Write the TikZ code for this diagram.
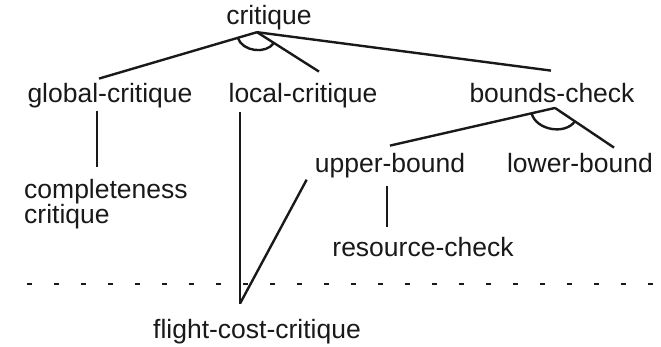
\documentclass[tikz,border=0pt]{standalone}
\usepackage{fontspec}
\setmainfont{Liberation Sans}
\usetikzlibrary{calc}

\begin{document}
\begin{tikzpicture}[x=1pt, y=-1pt, line width=2.4pt, color={black!90},
  lbl/.style={inner sep=2pt, font=\fontsize{26.5}{25}\selectfont}]

\useasboundingbox (0,0) rectangle (661,347);

\node[lbl, anchor=base] (crit)   at (269,25)  {critique};
\node[lbl, anchor=base] (glob)   at (110,103) {global-critique};
\node[lbl, anchor=base] (loc)    at (303,103) {local-critique};
\node[lbl, anchor=base] (bnd)    at (552,103) {bounds-check};
\node[lbl, anchor=north west, align=left] (compl) at (21,176) {completeness\\critique};
\node[lbl, anchor=base] (up)     at (390,173) {upper-bound};
\node[lbl, anchor=base] (low)    at (580,173) {lower-bound};
\node[lbl, anchor=base] (res)    at (423,257) {resource-check};
\node[lbl, anchor=base] (flight) at (257,338) {flight-cost-critique};

% junctions
\coordinate (crit-j)   at ([xshift=-12pt,yshift=1.5pt]crit.south);
\coordinate (bnd-j)    at ([xshift=3pt,yshift=-1.5pt]bnd.south);
\coordinate (flight-j) at ([xshift=-17pt,yshift=12pt]flight.north);
\coordinate (glob-t)   at ([xshift=-11pt,yshift=2pt]glob.north);
\coordinate (loc-t)    at ([xshift=16pt,yshift=9pt]loc.north);
\coordinate (up-t)     at ([yshift=5pt]up.north);
\coordinate (low-t)    at ([xshift=34pt,yshift=3pt]low.north);

\draw (crit-j) -- (glob-t);
\draw (crit-j) -- (loc-t);
\draw (crit-j) -- ([xshift=-1pt,yshift=10pt]bnd.north);
\draw ($(crit-j)!20pt!(glob-t)$) to[bend right=64] ($(crit-j)!20pt!(loc-t)$);

\draw ([xshift=-13pt,yshift=1pt]glob.south) -- ([xshift=-13pt,yshift=9pt]glob.south |- compl.north);
\draw ([xshift=-63pt]loc.south) -- (flight-j);
\draw (flight-j) -- ([xshift=-5pt,yshift=2pt]up.south west);

\draw (bnd-j) -- (up-t);
\draw (bnd-j) -- (low-t);
\draw ($(bnd-j)!24pt!(up-t)$) to[bend right=65] ($(bnd-j)!24pt!(low-t)$);

\draw ([xshift=-3pt,yshift=-4pt]up.south) -- ([xshift=-3pt,yshift=8pt]up.south |- res.north);

\draw[line width=2.5pt, dash pattern=on 5pt off 22pt] (27,284) -- (653,284);
\end{tikzpicture}
\end{document}
